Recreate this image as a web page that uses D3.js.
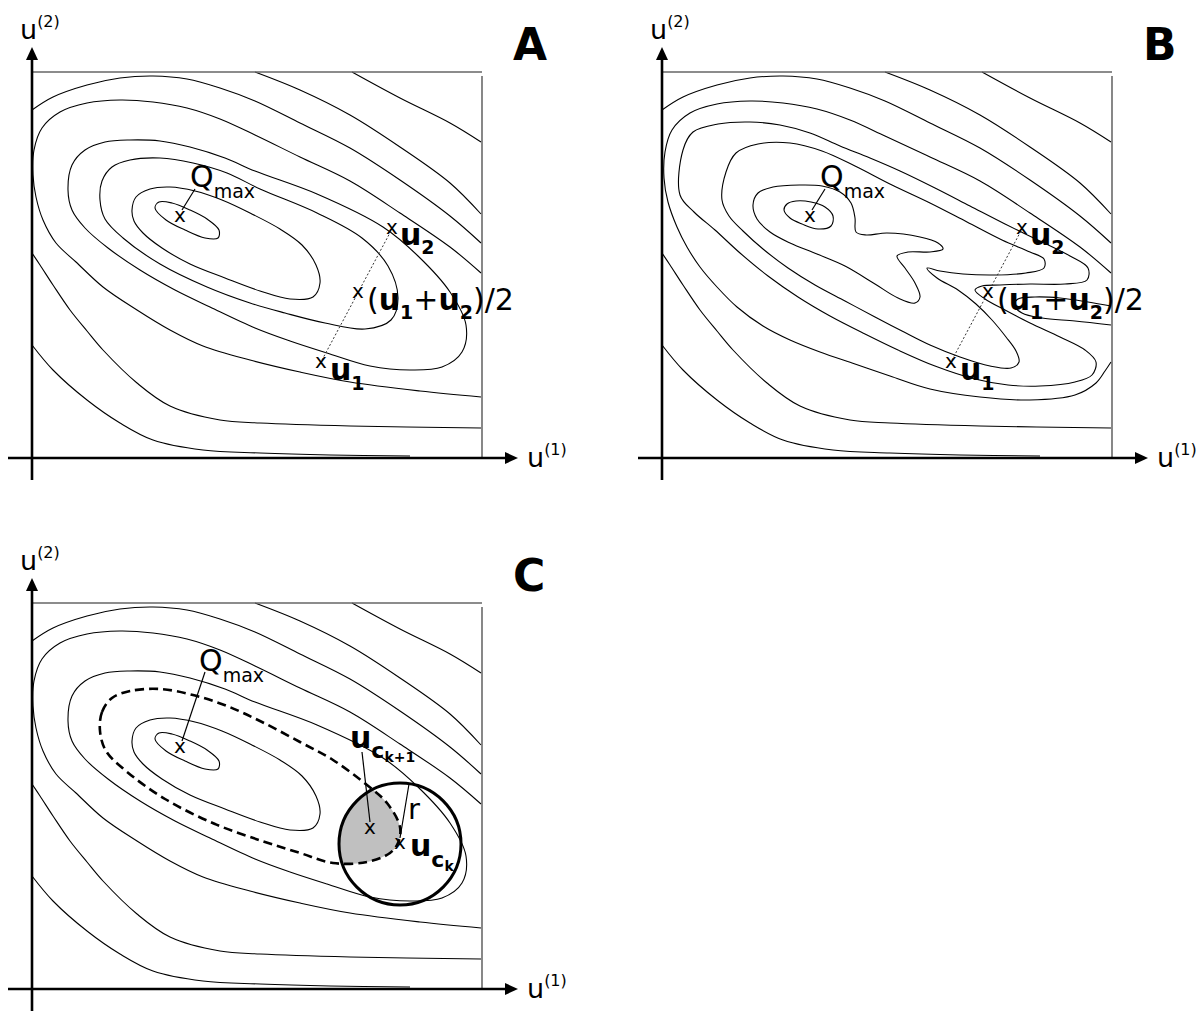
<!DOCTYPE html>
<html>
<head>
<meta charset="utf-8">
<script src="https://cdn.jsdelivr.net/npm/d3@7"></script>
<style>
  body { margin: 0; background: #fff; }
  svg text { font-family: "DejaVu Sans", sans-serif; fill: #000; }
</style>
</head>
<body>
<svg id="fig" width="1201" height="1012"></svg>
<script>

// --- panel A (also used for the outer lines of B and for C) ---
const contC1 = [[155,208],[159,202],[172,203],[190,210],[207,219],[219,230],[218,238],[205,238],[185,230],[166,220]];
const contC2 = [[132,210],[136,197],[150,189],[170,187],[195,191],[222,200],[250,213],[280,229],[302,245],[316,265],[320,283],[313,297],[290,299],[260,291],[225,278],[190,264],[162,248],[143,233],[134,221]];
const contC3 = [[100,200],[102,181],[112,167],[130,160],[160,158],[193,163],[227,173],[260,189],[317,213],[362,238],[388,266],[398,298],[391,320],[365,329],[325,323],[285,313],[250,303],[207,287],[160,264],[123,238],[105,219]];
const contC4 = [[68,190],[72,165],[85,150],[105,142],[130,140],[160,141],[190,147],[225,158],[255,171],[317,194],[383,227],[418,256],[450,292],[466,325],[462,352],[442,367],[410,370],[370,366],[327,353],[290,341],[255,328],[210,307],[175,290],[140,270],[108,248],[85,228],[72,210]];
const contC5 = [[481,273],[450,247],[400,213],[350,181],[300,157],[255,135],[220,119],[187,108],[153,102],[120,100],[87,103],[60,112],[42,128],[34,150],[33,175],[36,197],[43,220],[56,243],[76,262],[103,287],[137,310],[170,330],[203,346],[250,360],[300,372],[350,382],[420,391],[481,397]];
const contC6 = [[32,110],[53,97],[87,85],[120,78],[153,76],[187,79],[220,88],[255,101],[300,123],[350,148],[400,180],[450,216],[481,243]];
const contT1 = [[255,72],[300,90],[350,115],[400,147],[450,183],[481,214]];
const contT2 = [[352,72],[400,98],[450,123],[481,142]];
const contB2 = [[32,253],[40,265],[53,285],[70,310],[87,331],[103,350],[137,383],[170,406],[220,420],[260,423],[350,426],[481,428]];
const contB1 = [[32,345],[53,370],[87,400],[120,423],[153,440],[203,450],[260,453],[330,455],[410,456]];

// --- panel B (folded landscape) ---
const bBubble = [[154,210],[157,204],[166,201],[181,202],[195,207],[203,216],[201,226],[188,229],[172,224],[160,218]];
const bBoot = [[123,205],[128,193],[143,187],[170,185],[192,186],[210,192],[221,203],[225,218],[226,232],[236,235],[257,233],[290,237],[308,243],[313,249],[300,252],[278,252],[267,256],[275,268],[285,283],[290,297],[285,303],[268,298],[245,284],[215,266],[187,254],[160,243],[140,232],[127,219]];
const bL2 = [[92,200],[96,172],[106,153],[128,144],[160,143],[192,151],[225,166],[262,185],[300,203],[337,222],[372,240],[400,252],[414,259],[414,268],[396,273],[365,275],[333,274],[310,271],[297,268],[307,278],[328,290],[346,304],[362,320],[376,337],[386,351],[389,362],[381,368],[360,366],[330,357],[300,345],[272,331],[245,317],[215,301],[185,285],[158,268],[133,249],[113,231],[99,216]];
const bL3 = [[50,195],[53,150],[63,132],[88,124],[120,122],[150,125],[180,133],[210,146],[240,158],[270,171],[305,188],[340,206],[375,224],[410,241],[440,256],[458,268],[457,280],[435,284],[400,284],[370,285],[352,286],[345,290],[355,299],[375,310],[400,323],[430,337],[455,350],[466,362],[462,375],[445,382],[410,386],[378,385],[345,379],[305,366],[268,350],[235,334],[200,316],[168,297],[138,276],[110,253],[85,230],[64,212]];
const bC5 = [[481,273],[450,247],[400,213],[350,181],[300,157],[255,136],[220,120],[187,109],[153,103],[120,101],[87,104],[60,113],[42,130],[35,152],[34,178],[38,202],[47,227],[57,247],[70,267],[87,287],[107,307],[133,326],[160,340],[190,352],[225,364],[260,376],[300,389],[350,397],[400,400],[445,395],[466,383],[475,371],[481,362]];
const bNotch = [[481,306],[458,302],[430,298],[405,297],[388,299],[384,305],[392,313],[412,318],[445,321],[481,325]];

// --- panel C (dashed level set and trust region) ---
const cDashed = [[100,200],[102,181],[112,167],[130,160],[160,158],[193,164],[227,175],[262,191],[300,211],[333,229],[367,254],[387,272],[400,296],[398,312],[390,322],[367,331],[333,332],[300,322],[262,310],[215,293],[165,268],[126,240],[106,220]];
const trustCentre = [400, 313];
const trustRadius = 61;

// marked points
const pointsAB = [[180,216],[392,228],[358,292],[321,362]];
const pointsC = [[180,216],[370,297],[400,312]];

// panel frame (panel units)
const frame = { yAxisX: 32, xAxisY: 458, top: 72, right: 482, yBottom: 480, yTip: 47, xLeft: 8, xTip: 518 };

const svg = d3.select("#fig");

function richText(g, px, py, segs) {
  const t = g.append("text").attr("x", px).attr("y", py);
  segs.forEach(s => {
    t.append("tspan")
      .attr("dy", s.dy || 0)
      .style("font-size", s.size + "px")
      .style("font-weight", s.bold ? "bold" : "normal")
      .text(s.t);
  });
}

const midLabel = [
  {t:"(", size:30}, {t:"u", size:30, bold:1}, {t:"1", size:19, bold:1, dy:9},
  {t:"+", size:30, dy:-9}, {t:"u", size:30, bold:1}, {t:"2", size:19, bold:1, dy:9},
  {t:")/2", size:30, dy:-9}
];
const qLabel = [{t:"Q", size:30}, {t:"max", size:19, dy:11}];

const panels = [
  { name: "A", ox: 0, oy: 0,
    lines: [
      {pts: contC1, closed: true}, {pts: contC2, closed: true}, {pts: contC3, closed: true},
      {pts: contC4, closed: true}, {pts: contC5}, {pts: contC6}, {pts: contT1}, {pts: contT2},
      {pts: contB2}, {pts: contB1}
    ],
    points: pointsAB,
    leaders: [[[195,189],[182,210]]],
    dotted: [[322,360],[392,229]],
    labels: [
      {at:[190,187], segs: qLabel},
      {at:[400,245], segs:[{t:"u", size:30, bold:1}, {t:"2", size:19, bold:1, dy:9}]},
      {at:[367,310], segs: midLabel},
      {at:[330,380], segs:[{t:"u", size:30, bold:1}, {t:"1", size:19, bold:1, dy:10}]}
    ]
  },
  { name: "B", ox: 630, oy: 0,
    lines: [
      {pts: bBubble, closed: true}, {pts: bBoot, closed: true}, {pts: bL2, closed: true},
      {pts: bL3, closed: true}, {pts: bC5}, {pts: bNotch}, {pts: contC6}, {pts: contT1},
      {pts: contT2}, {pts: contB2}, {pts: contB1}
    ],
    points: pointsAB,
    leaders: [[[195,189],[182,210]]],
    dotted: [[322,360],[392,229]],
    labels: [
      {at:[190,187], segs: qLabel},
      {at:[400,245], segs:[{t:"u", size:30, bold:1}, {t:"2", size:19, bold:1, dy:9}]},
      {at:[367,310], segs: midLabel},
      {at:[330,380], segs:[{t:"u", size:30, bold:1}, {t:"1", size:19, bold:1, dy:10}]}
    ]
  },
  { name: "C", ox: 0, oy: 531,
    lines: [
      {pts: contC1, closed: true}, {pts: contC2, closed: true}, {pts: cDashed, closed: true, dashed: true},
      {pts: contC4, closed: true}, {pts: contC5}, {pts: contC6}, {pts: contT1}, {pts: contT2},
      {pts: contB2}, {pts: contB1}
    ],
    points: pointsC,
    leaders: [[[205,141],[182,210]], [[362,221],[370,291]], [[400,307],[409,253]]],
    trust: true,
    labels: [
      {at:[199,140], segs: qLabel},
      {at:[350,217], segs:[{t:"u", size:30, bold:1}, {t:"c", size:22, bold:1, dy:10}, {t:"k+1", size:14, bold:1, dy:4}]},
      {at:[408,288], segs:[{t:"r", size:29}]},
      {at:[410,325], segs:[{t:"u", size:30, bold:1}, {t:"c", size:22, bold:1, dy:11}, {t:"k", size:14, bold:1, dy:4}]}
    ]
  }
];

panels.forEach(p => {
  const x = d3.scaleLinear().domain([0, 500]).range([p.ox, p.ox + 500]);
  const y = d3.scaleLinear().domain([0, 500]).range([p.oy, p.oy + 500]);
  const g = svg.append("g").attr("class", "panel-" + p.name);

  const openLine = d3.line().x(d => x(d[0])).y(d => y(d[1])).curve(d3.curveCatmullRom.alpha(0.5));
  const closedLine = d3.line().x(d => x(d[0])).y(d => y(d[1])).curve(d3.curveCatmullRomClosed.alpha(0.5));

  // shaded part of the trust region inside the dashed level set
  if (p.trust) {
    const clipId = "clip-" + p.name;
    svg.append("clipPath").attr("id", clipId)
      .append("circle")
      .attr("cx", x(trustCentre[0])).attr("cy", y(trustCentre[1]))
      .attr("r", x(trustRadius) - x(0));
    g.append("path")
      .attr("d", closedLine(cDashed))
      .attr("fill", "#c0c0c0")
      .attr("clip-path", `url(#${clipId})`);
  }

  // contour lines
  p.lines.forEach(l => {
    g.append("path")
      .attr("d", l.closed ? closedLine(l.pts) : openLine(l.pts))
      .attr("fill", "none")
      .attr("stroke", "#000")
      .attr("stroke-width", l.dashed ? 2.6 : 1.1)
      .attr("stroke-dasharray", l.dashed ? "9,5" : null);
  });

  if (p.trust) {
    g.append("circle")
      .attr("cx", x(trustCentre[0])).attr("cy", y(trustCentre[1]))
      .attr("r", x(trustRadius) - x(0))
      .attr("fill", "none").attr("stroke", "#000").attr("stroke-width", 3);
  }

  // frame: box lines and axes
  g.append("line")
    .attr("x1", x(frame.yAxisX)).attr("x2", x(frame.right))
    .attr("y1", y(frame.top)).attr("y2", y(frame.top))
    .attr("stroke", "#666").attr("stroke-width", 1.4);
  g.append("line")
    .attr("x1", x(frame.right)).attr("x2", x(frame.right))
    .attr("y1", y(frame.top + 4)).attr("y2", y(frame.xAxisY))
    .attr("stroke", "#555").attr("stroke-width", 1.4);

  g.append("line")
    .attr("x1", x(frame.yAxisX)).attr("x2", x(frame.yAxisX))
    .attr("y1", y(frame.yBottom)).attr("y2", y(frame.yTip + 10))
    .attr("stroke", "#000").attr("stroke-width", 2.6);
  g.append("line")
    .attr("x1", x(frame.xLeft)).attr("x2", x(frame.xTip - 10))
    .attr("y1", y(frame.xAxisY)).attr("y2", y(frame.xAxisY))
    .attr("stroke", "#000").attr("stroke-width", 2.6);

  g.append("path")
    .attr("d", `M${x(frame.yAxisX)},${y(frame.yTip)} L${x(frame.yAxisX - 6)},${y(frame.yTip + 13)} L${x(frame.yAxisX + 6)},${y(frame.yTip + 13)} Z`)
    .attr("fill", "#000");
  g.append("path")
    .attr("d", `M${x(frame.xTip)},${y(frame.xAxisY)} L${x(frame.xTip - 13)},${y(frame.xAxisY - 6)} L${x(frame.xTip - 13)},${y(frame.xAxisY + 6)} Z`)
    .attr("fill", "#000");

  richText(g, x(20), y(39), [{t:"u", size:27}, {t:"(2)", size:16, dy:-12}]);
  richText(g, x(527), y(467), [{t:"u", size:27}, {t:"(1)", size:16, dy:-12}]);
  richText(g, x(513), y(60), [{t:p.name, size:44, bold:1}]);

  // dotted segment between u1 and u2
  if (p.dotted) {
    g.append("line")
      .attr("x1", x(p.dotted[0][0])).attr("y1", y(p.dotted[0][1]))
      .attr("x2", x(p.dotted[1][0])).attr("y2", y(p.dotted[1][1]))
      .attr("stroke", "#333").attr("stroke-width", 1).attr("stroke-dasharray", "2,2");
  }

  p.leaders.forEach(s => {
    g.append("line")
      .attr("x1", x(s[0][0])).attr("y1", y(s[0][1]))
      .attr("x2", x(s[1][0])).attr("y2", y(s[1][1]))
      .attr("stroke", "#000").attr("stroke-width", 1.2);
  });

  g.selectAll("text.mark")
    .data(p.points)
    .enter().append("text")
    .attr("class", "mark")
    .attr("x", d => x(d[0]))
    .attr("y", d => y(d[1]) + 6)
    .attr("text-anchor", "middle")
    .style("font-size", "20px")
    .text("x");

  p.labels.forEach(l => richText(g, x(l.at[0]), y(l.at[1]), l.segs));
});
</script>
</body>
</html>
